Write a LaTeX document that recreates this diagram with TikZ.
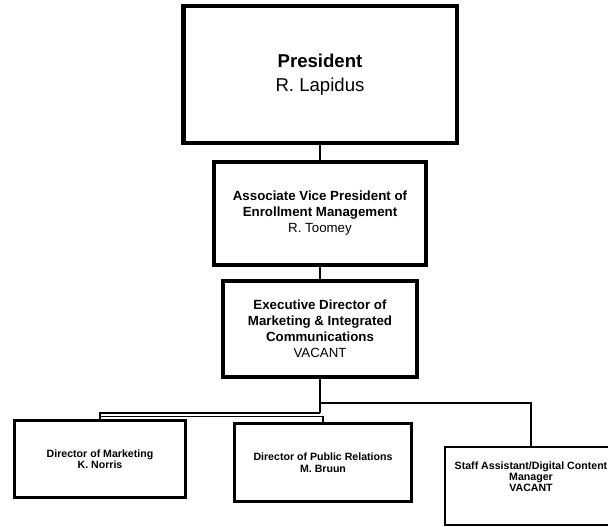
\documentclass[tikz,border=0pt]{standalone}
\usepackage{fontspec}
\setmainfont{Liberation Sans}
\begin{document}
\begin{tikzpicture}[x=1pt,y=-1pt,
  topbox/.style={draw, line width=4.5pt, rectangle, inner sep=0pt, align=center},
  midbox/.style={draw, line width=4pt, rectangle, inner sep=0pt, align=center,
    font=\fontsize{13.3}{16}\selectfont},
  lowbox/.style={draw, line width=3pt, rectangle, inner sep=0pt, align=center,
    font=\fontsize{10.6}{11.5}\selectfont\bfseries},
  lowtext/.style={inner sep=0pt, align=center, font=\fontsize{10.6}{11.2}\selectfont\bfseries},
  conn/.style={draw, line width=1.8pt},
  trunk/.style={draw, line width=2.5pt}]
\useasboundingbox (0,0) rectangle (608,527);

% executive chain
\node[topbox, minimum width=273.5pt, minimum height=136.5pt,
  font=\fontsize{18.6}{24}\selectfont] (pres) at (320,74.5)
  {\textbf{President}\\R. Lapidus};
\node[topbox, minimum width=212pt, minimum height=103pt,
  font=\fontsize{13.3}{16}\selectfont] (avp) at (320,213.5)
  {\textbf{Associate Vice President of}\\\textbf{Enrollment Management}\\R. Toomey};
\node[midbox, minimum width=194pt, minimum height=96pt] (exec) at (320,329)
  {\textbf{Executive Director of}\\\textbf{Marketing \& Integrated}\\\textbf{Communications}\\VACANT};

% direct reports
\node[lowbox, minimum width=171pt, minimum height=77pt] (mkt) at (100,459)
  {Director of Marketing\\K. Norris};
\node[lowbox, minimum width=177pt, minimum height=78pt] (pr) at (323,462.5)
  {Director of Public Relations\\M. Bruun};
\node[lowbox, line width=2pt, minimum width=172pt, minimum height=78pt] (staff) at (531,486) {};
\node[lowtext] (stafftext) at (531,477)
  {Staff Assistant/Digital Content\\Manager\\VACANT};

% connectors
\coordinate (bus) at (320,403);
\coordinate (split) at (320,413);
\coordinate (prtap) at (100,416.5);

\draw[trunk] (pres.south) -- (avp.north);
\draw[trunk] (avp.south) -- (exec.north);
\draw[trunk] (exec.south) -- (split);
\draw[conn] (split) -| (mkt.north);
\draw[conn] (prtap) -| (pr.north);
\draw[conn] (bus) -| (staff.north);
\end{tikzpicture}
\end{document}
